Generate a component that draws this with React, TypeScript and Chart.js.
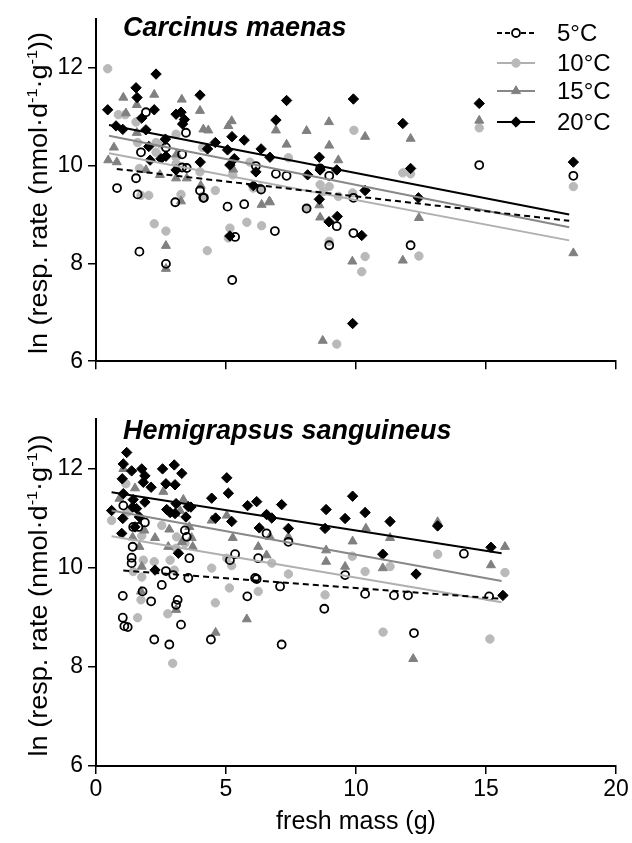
import React, { useEffect, useRef } from "react";
import { Chart, registerables } from "chart.js";

Chart.register(...registerables);

type Pt = [number, number];

const FONT = "'Liberation Sans', Arial, Helvetica, sans-serif";

const xTickValues = [0, 5, 10, 15, 20];
const yTickValues = [6, 8, 10, 12];
const tempLabels = ["5°C", "10°C", "15°C", "20°C"];
const speciesTitles = ["Carcinus maenas", "Hemigrapsus sanguineus"];
const xAxisTitle = "fresh mass (g)";

// ---------- Carcinus maenas ----------
const cm5: Pt[] = [
  [1.92, 11.09], [3.46, 10.67], [1.73, 10.27], [2.69, 10.37], [3.31, 10.23], [1.54, 9.74], [0.81, 9.54],
  [1.6, 9.41], [3.05, 9.25], [4.0, 9.49], [5.06, 9.16], [5.7, 9.21], [3.31, 9.96], [3.49, 9.95],
  [6.15, 9.99], [6.92, 9.83], [7.33, 9.79], [8.62, 9.94], [8.97, 9.79], [4.13, 9.34], [14.74, 10.01],
  [18.36, 9.79], [9.9, 9.34], [4.15, 9.34], [6.35, 9.51], [6.88, 8.66], [8.1, 9.12], [9.26, 8.76],
  [8.97, 8.37], [9.9, 8.62], [5.35, 8.54], [1.67, 8.24], [2.69, 7.99], [5.24, 7.66], [12.1, 8.37],
];
const cm10: Pt[] = [
  [0.45, 11.98], [0.86, 11.04], [1.12, 11.04], [1.54, 10.89], [3.08, 10.64], [1.6, 10.47], [2.31, 10.47],
  [2.5, 10.44], [2.31, 10.27], [3.08, 10.17], [1.67, 9.94], [3.08, 10.04], [4.0, 9.87], [4.1, 10.37],
  [3.27, 9.41], [4.1, 9.37], [4.59, 9.49], [1.73, 9.39], [2.03, 9.39], [5.26, 9.81], [5.92, 10.07],
  [6.31, 9.54], [6.05, 9.54], [7.4, 10.16], [8.62, 9.61], [8.74, 9.47], [8.97, 9.57], [9.87, 9.44],
  [9.92, 10.72], [11.8, 9.85], [12.1, 9.83], [14.74, 10.77], [18.36, 9.57], [2.24, 8.81], [2.69, 8.66],
  [4.28, 8.26], [5.15, 8.72], [5.09, 8.52], [5.8, 8.84], [6.37, 8.77], [8.1, 9.14], [8.97, 8.45],
  [9.26, 6.35], [9.32, 9.37], [10.35, 8.14], [10.22, 7.83], [12.42, 8.15],
];
const cm15: Pt[] = [
  [1.05, 11.39], [2.24, 11.45], [3.3, 11.35], [1.57, 11.24], [1.15, 11.07], [4.0, 11.12], [5.22, 10.91],
  [5.09, 10.81], [4.13, 10.74], [4.32, 10.72], [6.92, 10.72], [8.1, 10.71], [8.96, 10.89], [10.35, 10.59],
  [7.33, 10.43], [8.97, 10.41], [1.57, 10.67], [0.69, 10.37], [0.47, 10.11], [0.8, 10.07], [9.32, 10.11],
  [5.28, 9.92], [2.46, 9.81], [3.08, 9.74], [3.49, 9.74], [4.03, 9.59], [6.67, 9.27], [1.92, 9.91],
  [3.1, 10.23], [3.27, 9.27], [12.1, 10.55], [14.74, 10.92], [2.69, 8.36], [2.69, 7.89], [6.37, 9.2],
  [6.69, 9.25], [8.59, 9.19], [8.62, 8.94], [9.86, 8.04], [8.72, 6.42], [12.42, 8.93], [11.8, 8.06],
  [18.36, 8.21],
];
const cm20: Pt[] = [
  [0.45, 11.14], [2.31, 11.87], [1.54, 11.59], [1.58, 11.39], [2.24, 11.14], [1.76, 10.97], [0.77, 10.81],
  [1.03, 10.74], [1.92, 10.73], [4.0, 11.44], [3.08, 11.05], [3.27, 11.09], [3.4, 10.94], [3.33, 10.85],
  [2.67, 10.54], [2.03, 10.39], [2.08, 10.11], [2.5, 10.14], [2.69, 10.19], [3.08, 9.91], [4.01, 10.07],
  [4.59, 10.47], [5.23, 10.59], [5.7, 10.52], [5.06, 10.32], [5.32, 10.14], [5.15, 10.01], [4.29, 10.34],
  [7.33, 11.33], [9.9, 11.36], [6.92, 10.93], [6.35, 10.34], [6.69, 10.17], [6.15, 9.87], [8.59, 10.17],
  [8.62, 9.91], [9.26, 9.91], [8.14, 9.81], [10.35, 9.49], [6.05, 9.59], [8.59, 9.31], [14.74, 11.27],
  [11.8, 10.86], [12.1, 9.94], [12.4, 9.34], [18.36, 10.07], [8.96, 8.85], [9.28, 8.96], [5.15, 8.56],
  [10.22, 8.57], [9.87, 6.77],
];
const cmFit5: Pt[] = [[0.8, 9.93], [18.2, 8.87]];
const cmFit10: Pt[] = [[0.5, 10.25], [18.2, 8.47]];
const cmFit15: Pt[] = [[0.5, 10.61], [18.2, 8.74]];
const cmFit20: Pt[] = [[0.5, 10.83], [18.2, 9.0]];

// ---------- Hemigrapsus sanguineus ----------
const hs5: Pt[] = [
  [1.05, 11.25], [1.43, 10.82], [1.63, 10.82], [1.88, 10.91], [3.42, 10.75], [3.49, 10.62], [1.41, 10.42],
  [1.37, 10.2], [1.37, 10.09], [3.59, 10.19], [5.35, 10.27], [5.15, 10.15], [6.24, 10.19], [6.56, 10.69],
  [7.4, 10.52], [9.58, 9.85], [2.69, 9.93], [2.53, 9.65], [3.55, 9.79], [6.12, 9.79], [7.08, 9.62],
  [2.97, 9.85], [1.79, 9.52], [1.03, 9.43], [2.12, 9.32], [3.14, 9.35], [3.08, 9.25], [1.03, 8.99],
  [1.09, 8.82], [1.22, 8.8], [2.24, 8.55], [2.82, 8.45], [3.27, 8.85], [4.42, 8.55], [5.82, 9.42],
  [6.18, 9.77], [7.14, 8.45], [8.78, 9.17], [10.35, 9.47], [11.46, 9.44], [12.0, 9.44], [12.23, 8.68],
  [14.15, 10.28], [15.12, 9.42],
];
const hs10: Pt[] = [
  [0.6, 10.95], [1.76, 10.64], [2.53, 10.85], [3.1, 10.62], [3.42, 10.49], [2.85, 10.15], [1.82, 10.15],
  [1.43, 9.92], [1.76, 9.81], [4.45, 9.99], [5.03, 10.19], [5.22, 10.04], [6.76, 10.09], [7.4, 9.87],
  [6.24, 9.52], [9.86, 10.23], [13.14, 10.27], [10.35, 9.92], [11.31, 10.02], [15.73, 9.9], [1.15, 11.69],
  [1.22, 11.12], [2.24, 10.12], [3.08, 10.39], [5.13, 9.59], [3.01, 9.95], [4.59, 9.29], [1.73, 9.35],
  [1.6, 8.99], [2.76, 9.07], [2.95, 8.07], [8.81, 9.45], [11.04, 8.7], [15.15, 8.56],
];
const hs15: Pt[] = [
  [1.05, 11.99], [1.5, 11.6], [2.59, 11.53], [0.9, 11.39], [3.36, 11.37], [3.23, 11.15], [5.03, 11.05],
  [4.45, 10.95], [2.82, 10.77], [1.41, 10.61], [2.27, 10.6], [3.68, 10.6], [5.26, 10.6], [6.69, 10.62],
  [7.4, 10.62], [1.67, 10.42], [2.78, 10.42], [3.72, 10.42], [6.24, 10.42], [8.85, 10.35], [9.87, 10.53],
  [10.38, 10.79], [8.85, 10.12], [6.56, 10.25], [9.58, 10.02], [1.76, 10.02], [11.31, 10.6], [11.03, 9.99],
  [15.19, 10.05], [15.73, 10.42], [13.14, 10.92], [3.05, 11.09], [1.86, 10.75], [3.59, 10.82], [3.31, 10.52],
  [1.73, 9.52], [3.08, 9.15], [4.6, 8.69], [5.8, 8.96], [12.2, 8.16],
];
const hs20: Pt[] = [
  [1.18, 12.32], [1.05, 12.09], [1.37, 11.95], [1.76, 11.99], [2.56, 11.99], [3.01, 12.07], [3.3, 11.9],
  [1.01, 11.79], [1.88, 11.85], [1.82, 11.72], [2.12, 11.62], [2.69, 11.69], [3.04, 11.67], [5.03, 11.81],
  [5.09, 11.5], [1.05, 11.49], [1.43, 11.37], [0.6, 11.15], [1.56, 11.19], [2.72, 11.17], [2.85, 11.11],
  [3.04, 11.09], [3.55, 11.23], [3.08, 11.29], [4.45, 11.4], [5.83, 11.25], [6.18, 11.33], [7.14, 11.27],
  [1.03, 10.99], [1.5, 10.82], [4.6, 11.0], [5.22, 10.93], [6.56, 11.07], [6.76, 11.0], [6.28, 10.8],
  [7.4, 10.79], [8.85, 11.17], [9.87, 11.44], [9.58, 10.99], [8.81, 10.79], [10.35, 11.11], [0.99, 10.69],
  [3.17, 10.29], [2.27, 9.95], [1.88, 11.32], [1.41, 11.22], [3.65, 11.22], [3.46, 11.02], [1.67, 11.02],
  [11.31, 10.93], [13.14, 10.84], [11.03, 10.27], [12.31, 9.87], [15.19, 10.41], [15.65, 9.44],
];
const hsFit5: Pt[] = [[1.05, 9.94], [15.6, 9.37]];
const hsFit10: Pt[] = [[0.6, 10.63], [15.6, 9.3]];
const hsFit15: Pt[] = [[0.6, 11.15], [15.6, 9.73]];
const hsFit20: Pt[] = [[0.6, 11.52], [15.6, 10.29]];

type Style = { shape: string; fill: string; stroke: string; r: number; bw: number; line: string; dash: number[]; order: number };
const STYLES: Style[] = [
  { shape: "circle", fill: "rgba(255,255,255,0)", stroke: "#000000", r: 4, bw: 1.8, line: "#000000", dash: [6, 4], order: 2 },
  { shape: "circle", fill: "#b9b9b9", stroke: "#b9b9b9", r: 4.2, bw: 1, line: "#b0b0b0", dash: [], order: 4 },
  { shape: "triangle", fill: "#808080", stroke: "#808080", r: 5.2, bw: 1, line: "#888888", dash: [], order: 3 },
  { shape: "rectRot", fill: "#000000", stroke: "#000000", r: 5.2, bw: 1, line: "#000000", dash: [], order: 1 },
];

function drawMarker(ctx: CanvasRenderingContext2D, s: Style, x: number, y: number) {
  ctx.save();
  ctx.fillStyle = s.fill;
  ctx.strokeStyle = s.stroke;
  ctx.lineWidth = s.bw;
  ctx.beginPath();
  if (s.shape === "circle") {
    ctx.arc(x, y, s.r, 0, Math.PI * 2);
  } else if (s.shape === "triangle") {
    const r = s.r;
    ctx.moveTo(x, y - r);
    ctx.lineTo(x + r * Math.sin(Math.PI / 3), y + r / 2);
    ctx.lineTo(x - r * Math.sin(Math.PI / 3), y + r / 2);
    ctx.closePath();
  } else {
    const r = s.r;
    ctx.moveTo(x - r, y);
    ctx.lineTo(x, y - r);
    ctx.lineTo(x + r, y);
    ctx.lineTo(x, y + r);
    ctx.closePath();
  }
  ctx.fill();
  ctx.stroke();
  ctx.restore();
}

function drawYTitle(ctx: CanvasRenderingContext2D, baseX: number, cy: number) {
  const parts: [string, boolean][] = [
    ["ln (resp. rate (nmol·d", false],
    ["-1", true],
    ["·g", false],
    ["-1", true],
    ["))", false],
  ];
  const big = `25px ${FONT}`;
  const small = `15px ${FONT}`;
  let total = 0;
  const widths = parts.map(([t, sup]) => {
    ctx.font = sup ? small : big;
    const w = ctx.measureText(t).width;
    total += w;
    return w;
  });
  const target = 322;
  ctx.save();
  ctx.translate(baseX, cy);
  ctx.rotate(-Math.PI / 2);
  ctx.scale(target / total, 1);
  ctx.fillStyle = "#000";
  ctx.textBaseline = "alphabetic";
  ctx.textAlign = "left";
  let x = -total / 2;
  parts.forEach(([t, sup], i) => {
    ctx.font = sup ? small : big;
    ctx.fillText(t, x, sup ? -10 : 0);
    x += widths[i];
  });
  ctx.restore();
}

type PanelProps = {
  series: Pt[][];
  fits: Pt[][];
  title: string;
  titleBaseline: number;
  showLegend: boolean;
  showXLabels: boolean;
  height: number;
  padTop: number;
  xAxisHeight: number;
  top: number;
};

function Panel(p: PanelProps) {
  const ref = useRef<HTMLCanvasElement>(null);
  useEffect(() => {
    const canvas = ref.current;
    if (!canvas) return;
    const datasets: any[] = [];
    p.fits.forEach((f, i) => {
      datasets.push({
        label: tempLabels[i] + " fit",
        data: f.map(([x, y]) => ({ x, y })),
        showLine: true,
        borderColor: STYLES[i].line,
        borderWidth: 2,
        borderDash: STYLES[i].dash,
        pointRadius: 0,
        fill: false,
        order: 0,
      });
    });
    p.series.forEach((s, i) => {
      datasets.push({
        label: tempLabels[i],
        data: s.map(([x, y]) => ({ x, y })),
        pointStyle: STYLES[i].shape,
        pointRadius: STYLES[i].r,
        backgroundColor: STYLES[i].fill,
        borderColor: STYLES[i].stroke,
        pointBorderWidth: STYLES[i].bw,
        order: STYLES[i].order,
      });
    });

    const decor = {
      id: "decor",
      afterDraw(chart: any) {
        const ctx: CanvasRenderingContext2D = chart.ctx;
        const area = chart.chartArea;
        // panel title
        ctx.save();
        ctx.fillStyle = "#000";
        ctx.font = `italic bold 27px ${FONT}`;
        ctx.textAlign = "left";
        ctx.textBaseline = "alphabetic";
        ctx.fillText(p.title, 123, p.titleBaseline);
        ctx.restore();
        // y title
        drawYTitle(ctx, 47, (area.top + area.bottom) / 2 + 3);
        // x title
        if (p.showXLabels) {
          ctx.save();
          ctx.fillStyle = "#000";
          ctx.font = `25px ${FONT}`;
          ctx.textAlign = "center";
          ctx.textBaseline = "middle";
          ctx.fillText(xAxisTitle, (area.left + area.right) / 2, area.bottom + 56);
          ctx.restore();
        }
        // legend
        if (p.showLegend) {
          const rows = [33, 63, 91, 122];
          rows.forEach((y, i) => {
            const s = STYLES[i];
            ctx.save();
            ctx.strokeStyle = s.line;
            ctx.lineWidth = 2;
            ctx.setLineDash(s.dash.length ? [5, 3] : []);
            ctx.beginPath();
            ctx.moveTo(497, y);
            ctx.lineTo(535, y);
            ctx.stroke();
            ctx.restore();
            const ms = { ...s, fill: i === 0 ? "#ffffff" : s.fill };
            drawMarker(ctx, ms, 516, y);
            ctx.save();
            ctx.fillStyle = "#000";
            ctx.font = `24px ${FONT}`;
            ctx.textAlign = "left";
            ctx.textBaseline = "middle";
            ctx.fillText(tempLabels[i], 557, y + 1);
            ctx.restore();
          });
        }
      },
    };

    const chart = new Chart(canvas, {
      type: "scatter",
      data: { datasets },
      options: {
        animation: false,
        responsive: false,
        maintainAspectRatio: false,
        devicePixelRatio: 1,
        layout: { padding: { top: p.padTop, right: 16, bottom: 0, left: 0 } },
        plugins: { legend: { display: false }, tooltip: { enabled: false }, title: { display: false } },
        scales: {
          x: {
            type: "linear",
            min: 0,
            max: 20,
            afterBuildTicks: (scale: any) => {
              scale.ticks = xTickValues.map((v) => ({ value: v }));
            },
            ticks: {
              stepSize: 5,
              color: "#000",
              font: { family: FONT, size: 23 },
              padding: 2,
              maxRotation: 0,
              autoSkip: false,
              callback: (v: any) => (p.showXLabels ? String(v) : ""),
            },
            grid: { drawOnChartArea: false, drawTicks: true, tickLength: 8, color: "#000", lineWidth: 1.5 },
            border: { color: "#000", width: 2 },
            afterFit: (scale: any) => {
              scale.height = p.xAxisHeight;
            },
          },
          y: {
            type: "linear",
            min: 6,
            max: 13,
            afterBuildTicks: (scale: any) => {
              scale.ticks = yTickValues.map((v) => ({ value: v }));
            },
            ticks: {
              stepSize: 2,
              color: "#000",
              font: { family: FONT, size: 23 },
              padding: 5,
            },
            grid: { drawOnChartArea: false, drawTicks: true, tickLength: 8, color: "#000", lineWidth: 1.5 },
            border: { color: "#000", width: 2 },
            afterFit: (scale: any) => {
              scale.width = 96;
            },
          },
        },
      } as any,
      plugins: [decor],
    });
    return () => chart.destroy();
  }, []);

  return (
    <canvas
      ref={ref}
      width={632}
      height={p.height}
      style={{ position: "absolute", left: 0, top: p.top, width: 632, height: p.height }}
    />
  );
}

export default function App() {
  return (
    <div style={{ position: "absolute", left: 0, top: 0, width: 632, height: 843, background: "#fff", overflow: "hidden" }}>
      <Panel
        series={[cm5, cm10, cm15, cm20]}
        fits={[cmFit5, cmFit10, cmFit15, cmFit20]}
        title={speciesTitles[0]}
        titleBaseline={36}
        showLegend={true}
        showXLabels={false}
        height={380}
        padTop={12}
        xAxisHeight={18}
        top={0}
      />
      <Panel
        series={[hs5, hs10, hs15, hs20]}
        fits={[hsFit5, hsFit10, hsFit15, hsFit20]}
        title={speciesTitles[1]}
        titleBaseline={39}
        showLegend={false}
        showXLabels={true}
        height={443}
        padTop={16}
        xAxisHeight={77}
        top={400}
      />
    </div>
  );
}
